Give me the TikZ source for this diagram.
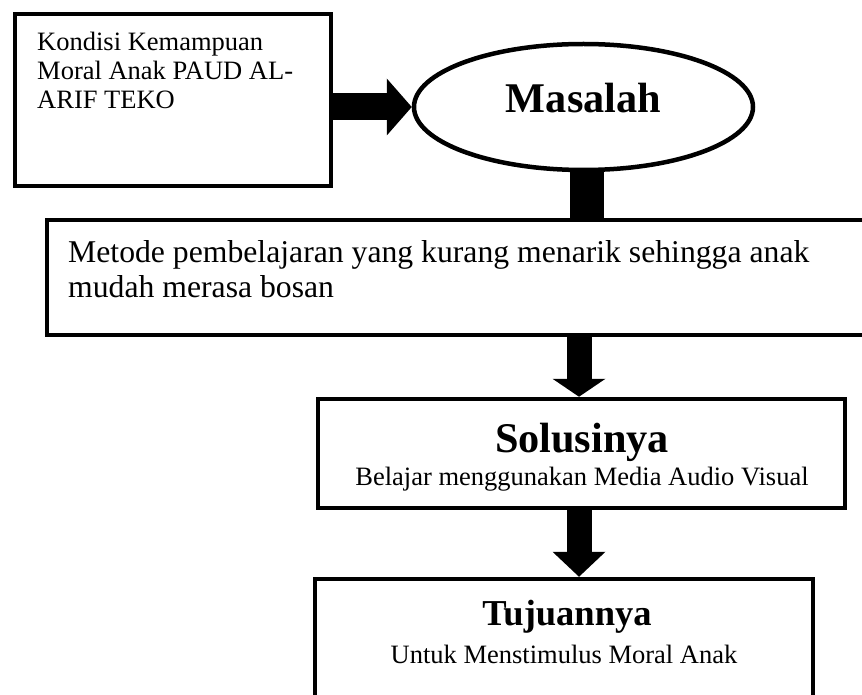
\documentclass[tikz,border=0pt]{standalone}
\usepackage{fontspec}
\setmainfont{Liberation Serif}
\usetikzlibrary{shapes.geometric,arrows.meta,calc}
\begin{document}
\begin{tikzpicture}[x=1pt,y=-1pt,
  boxst/.style={draw,line width=4.5pt,inner sep=0pt,fill=white},
  txtA/.style={font=\fontsize{26.5}{29}\selectfont, inner sep=0pt},
  txtB/.style={font=\fontsize{31.7}{35.5}\selectfont, inner sep=0pt},
  titleA/.style={font=\fontsize{42.3}{46}\selectfont\bfseries, inner sep=0pt},
  titleB/.style={font=\fontsize{36.5}{40}\selectfont\bfseries, inner sep=0pt},
  blockarrow/.style={draw=black,line width=#1}
]
\useasboundingbox (0,0) rectangle (862,695);
% shapes
\node[boxst, minimum width=316pt, minimum height=172pt] (b1) at (173,100) {};
\node[boxst, ellipse, minimum width=339pt, minimum height=126pt] (ell) at (583.5,107) {};
\node[boxst, minimum width=821pt, minimum height=115pt] (b2) at (457.5,277.5) {};
\node[boxst, minimum width=527pt, minimum height=109pt] (b3) at (581.5,453.5) {};
\node[boxst, minimum width=498pt, minimum height=126pt] (b4) at (564,642) {};
% texts
\node[txtA, anchor=north west, align=left] (t1) at (37,32) {Kondisi Kemampuan\\Moral Anak PAUD AL-\\ARIF TEKO};
\node[txtB, anchor=north west, align=left] (t2) at (68,240) {Metode pembelajaran yang kurang menarik sehingga anak\\mudah merasa bosan};
\node[titleA, anchor=base] (t3) at (583.5,113) {Masalah};
\node[titleA, anchor=base] (t4) at (582,452) {Solusinya};
\node[txtA, anchor=base] (t5) at (582,485) {Belajar menggunakan Media Audio Visual};
\node[titleB, anchor=base] (t6) at (567,625) {Tujuannya};
\node[txtA, anchor=base] (t7) at (564,663) {Untuk Menstimulus Moral Anak};
% connectors
\coordinate (ax) at (579,0);
\coordinate (sx) at (587,0);
\draw[blockarrow=27pt, -{Triangle[length=25pt,width=57pt,line width=0pt]}] (b1.east |- ell.west) -- (ell.west);
\draw[blockarrow=34pt, shorten <=-2pt, shorten >=-1pt] (ell.south -| sx) -- (b2.north -| sx);
\draw[blockarrow=25pt, shorten <=-2pt, -{Triangle[length=18pt,width=53pt,line width=0pt]}] (b2.south -| ax) -- (b3.north -| ax);
\draw[blockarrow=25pt, shorten <=-2pt, -{Triangle[length=25pt,width=53pt,line width=0pt]}] (b3.south -| ax) -- (b4.north -| ax);
\end{tikzpicture}
\end{document}
